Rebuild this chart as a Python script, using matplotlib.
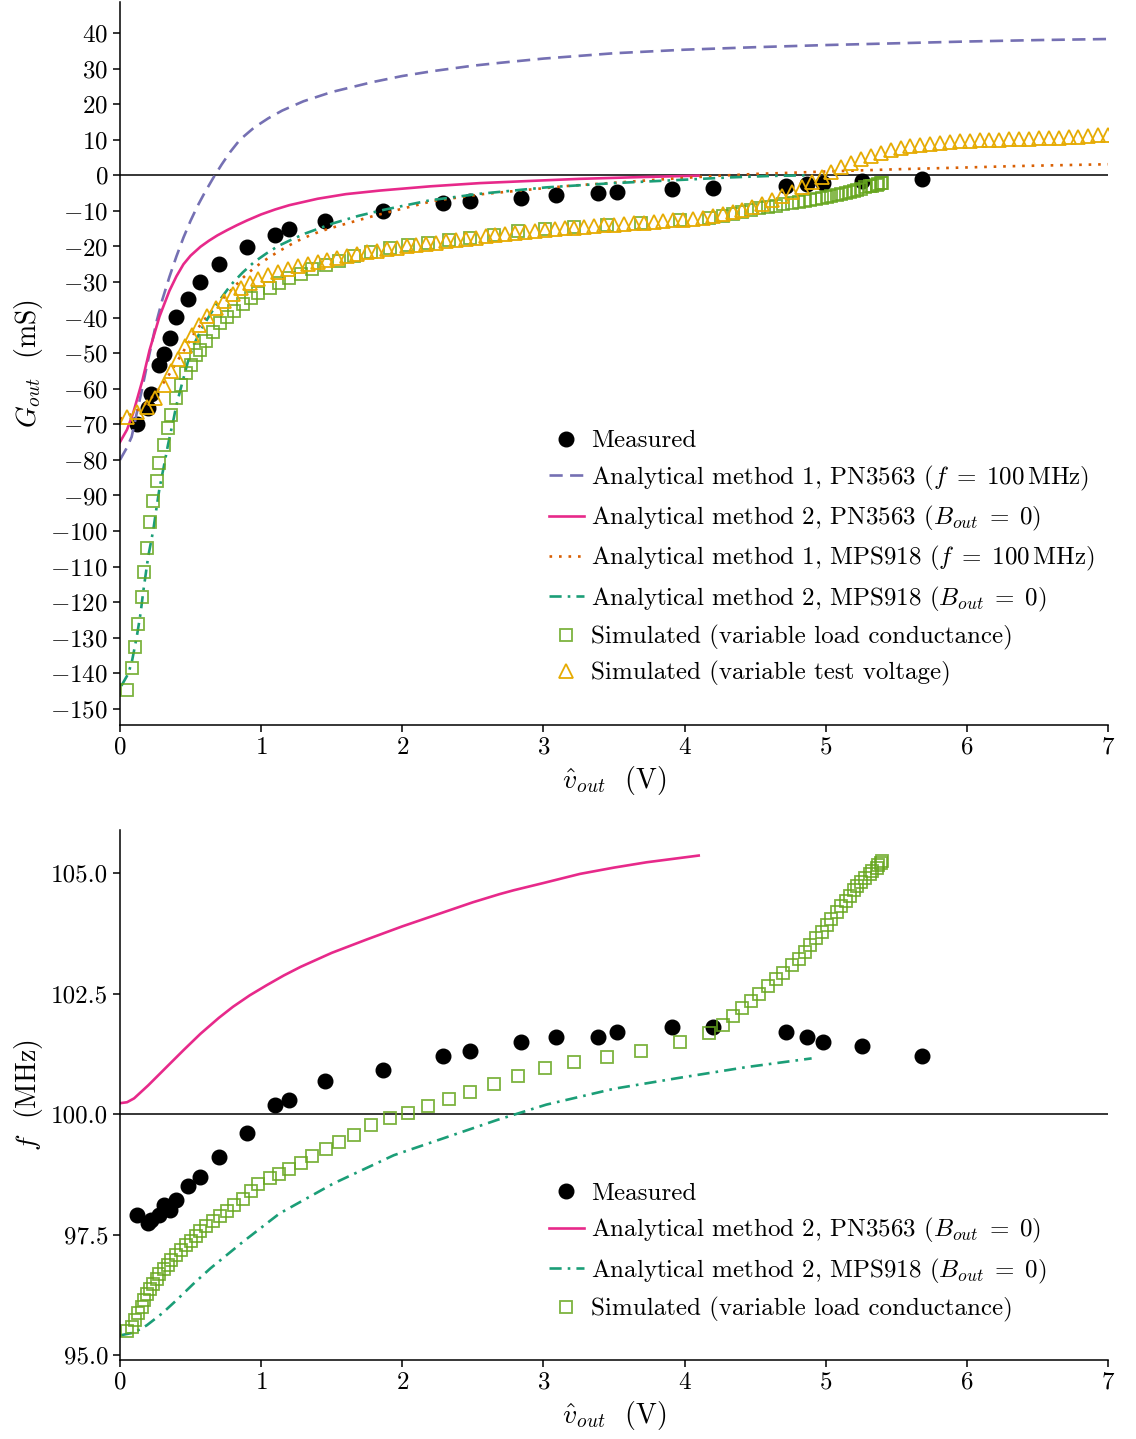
import matplotlib
matplotlib.use("Agg")
import matplotlib.pyplot as plt
from matplotlib.ticker import FormatStrFormatter

plt.rcParams.update({
    "font.family": "serif",
    "font.serif": ["cmr10"],
    "mathtext.fontset": "cm",
    "axes.formatter.use_mathtext": True,
    "axes.unicode_minus": True,
})

# ---------------- data ----------------
meas_v = [0.118, 0.20, 0.217, 0.28, 0.31, 0.355, 0.40, 0.485, 0.57, 0.70, 0.90, 1.10, 1.20, 1.45,
          1.86, 2.29, 2.48, 2.84, 3.09, 3.39, 3.52, 3.91, 4.20, 4.72, 4.87, 4.98, 5.26, 5.68]
meas_G = [-69.9, -65.5, -61.5, -53.3, -50.3, -45.8, -39.7, -34.8, -30.1, -25.0, -20.1, -16.8, -15.2, -12.8,
          -9.9, -7.9, -7.1, -6.3, -5.5, -5.1, -4.8, -3.9, -3.6, -2.9, -2.4, -2.1, -1.5, -1.0]
meas_f = [97.90, 97.74, 97.80, 97.90, 98.11, 98.01, 98.22, 98.51, 98.70, 99.11, 99.61, 100.19, 100.29, 100.70,
          100.91, 101.20, 101.31, 101.51, 101.60, 101.60, 101.71, 101.81, 101.81, 101.71, 101.60, 101.51, 101.41, 101.20]

# Analytical method 1, PN3563
a1p_v = [0.0, 0.047, 0.083, 0.11, 0.15, 0.20, 0.26, 0.30, 0.35, 0.40, 0.45, 0.50, 0.55, 0.60, 0.66, 0.72,
         0.78, 0.85, 0.95, 1.05, 1.15, 1.30, 1.50, 1.79, 2.0, 2.22, 2.5, 2.69, 3.0, 3.5, 4.0, 4.5, 5.0, 5.5,
         6.0, 6.5, 7.0]
a1p_G = [-80.0, -76.7, -73.5, -68.5, -61.3, -51.8, -41.0, -35.0, -28.6, -22.8, -17.5, -12.8, -8.6, -4.9, -0.8, 3.0,
         6.5, 10.0, 13.4, 16.0, 18.2, 20.8, 23.4, 26.2, 27.9, 29.3, 30.8, 31.6, 32.8, 34.3, 35.3, 36.0, 36.6, 37.1,
         37.6, 38.0, 38.3]

# Analytical method 2, PN3563
a2p_v = [0.0, 0.05, 0.094, 0.16, 0.21, 0.28, 0.35, 0.40, 0.45, 0.50, 0.57, 0.63, 0.69, 0.76, 0.83, 0.90, 1.0,
         1.1, 1.2, 1.4, 1.6, 1.84, 2.2, 2.55, 2.9, 3.26, 3.7, 4.1]
a2p_G = [-75.0, -71.5, -66.8, -57.5, -49.1, -39.7, -32.5, -28.4, -25.0, -22.6, -20.1, -18.4, -16.9, -15.4, -14.0,
         -12.7, -11.0, -9.6, -8.4, -6.6, -5.3, -4.3, -3.1, -2.2, -1.6, -1.0, -0.5, -0.1]
a2p_f_v = [0.0, 0.05, 0.1, 0.2, 0.33, 0.45, 0.57, 0.7, 0.8, 0.92, 1.04, 1.16, 1.28, 1.5, 1.75, 2.0, 2.22, 2.5,
           2.69, 2.79, 3.0, 3.26, 3.5, 3.73, 4.1]
a2p_f = [100.23, 100.25, 100.33, 100.60, 100.98, 101.33, 101.67, 102.00, 102.23, 102.47, 102.68, 102.88, 103.06,
         103.35, 103.63, 103.90, 104.12, 104.40, 104.57, 104.65, 104.80, 104.99, 105.12, 105.23, 105.37]

# Analytical method 1, MPS918
a1m_v = [0.0, 0.1, 0.2, 0.29, 0.35, 0.41, 0.46, 0.52, 0.58, 0.63, 0.72, 0.78, 0.83, 0.88, 0.94, 1.00, 1.06,
         1.12, 1.19, 1.26, 1.34, 1.41, 1.48, 1.55, 1.62, 1.80, 1.98, 2.22, 2.57, 2.83, 3.17, 3.50, 3.86, 4.21,
         4.51, 4.75, 4.95, 5.51, 6.0, 6.36, 7.0]
a1m_G = [-68.5, -66.8, -63.6, -59.4, -55.9, -52.0, -48.8, -44.8, -41.5, -39.0, -35.0, -32.6, -30.5, -28.5, -26.4,
         -24.6, -23.0, -21.5, -19.9, -18.4, -17.0, -15.9, -15.0, -14.2, -13.4, -11.4, -9.6, -7.2, -5.3, -4.3, -3.0,
         -2.1, -1.1, -0.2, 0.4, 0.7, 1.0, 1.7, 2.2, 2.6, 3.1]

# Analytical method 2, MPS918
a2m_v = [0.01, 0.06, 0.087, 0.12, 0.146, 0.165, 0.20, 0.236, 0.26, 0.28, 0.32, 0.34, 0.38, 0.40, 0.44, 0.48,
         0.52, 0.59, 0.68, 0.76, 0.80, 0.87, 0.95, 1.04, 1.12, 1.22, 1.31, 1.42, 1.51, 1.69, 1.87, 2.20, 2.55,
         3.02, 3.50, 3.97, 4.32, 4.60, 4.88]
a2m_G = [-143.5, -140.0, -136.2, -129.5, -123.1, -117.0, -107.2, -99.7, -93.2, -88.0, -80.0, -75.8, -68.5, -64.6,
         -58.5, -52.6, -47.8, -42.3, -36.5, -32.2, -30.2, -27.3, -24.4, -21.9, -19.9, -18.0, -16.4, -14.8, -13.5,
         -11.4, -9.7, -7.0, -5.2, -3.4, -2.2, -1.3, -0.6, -0.2, 0.0]
a2m_f_v = [0.0, 0.1, 0.19, 0.30, 0.40, 0.52, 0.64, 0.87, 1.13, 1.51, 1.94, 2.22, 2.67, 3.02, 3.50, 3.97, 4.44, 4.90]
a2m_f = [95.41, 95.47, 95.62, 95.87, 96.14, 96.48, 96.80, 97.35, 97.94, 98.56, 99.15, 99.43, 99.88, 100.20,
         100.53, 100.76, 100.98, 101.16]

# Simulated (variable load conductance)
simL_v = [0.047, 0.083, 0.106, 0.13, 0.153, 0.17, 0.19, 0.21, 0.236, 0.26, 0.28, 0.31, 0.34, 0.365, 0.40, 0.43,
          0.47, 0.50, 0.54, 0.57, 0.61, 0.66, 0.71, 0.76, 0.81, 0.87, 0.93, 0.98, 1.06, 1.13, 1.20, 1.28, 1.36,
          1.46, 1.55, 1.66, 1.78, 1.91, 2.04, 2.18, 2.33, 2.48, 2.65, 2.82, 3.01, 3.22, 3.45, 3.69, 3.97, 4.17,
          4.27, 4.34, 4.41, 4.47, 4.53, 4.59, 4.65, 4.70, 4.76, 4.81, 4.85, 4.89, 4.93, 4.97, 5.01, 5.04, 5.08,
          5.11, 5.14, 5.17, 5.20, 5.22, 5.25, 5.28, 5.31, 5.33, 5.36, 5.37, 5.39, 5.40]
simL_G = [-144.7, -138.5, -132.5, -126.1, -118.5, -111.5, -104.8, -97.5, -91.5, -86.0, -81.0, -75.8, -71.0, -67.5,
          -62.5, -59.0, -55.5, -53.2, -50.6, -49.0, -46.6, -44.0, -41.6, -39.7, -38.1, -36.2, -34.6, -33.2, -31.6,
          -30.2, -29.0, -27.7, -26.4, -25.1, -24.0, -22.8, -21.7, -20.5, -19.6, -19.1, -18.2, -17.5, -16.8, -15.8,
          -15.2, -14.6, -14.0, -13.3, -12.6, -12.1, -11.4, -11.0, -10.2, -9.8, -9.3, -8.9, -8.5, -8.2, -7.9, -7.6,
          -7.3, -7.0, -6.7, -6.4, -6.1, -5.8, -5.5, -5.2, -4.9, -4.6, -4.3, -4.1, -3.8, -3.4, -3.1, -2.9, -2.6,
          -2.4, -2.3, -2.2]
simL_f = [95.50, 95.59, 95.73, 95.87, 96.00, 96.14, 96.26, 96.37, 96.47, 96.58, 96.68, 96.78, 96.87, 96.97, 97.08,
          97.18, 97.28, 97.37, 97.47, 97.58, 97.68, 97.79, 97.89, 98.00, 98.12, 98.25, 98.41, 98.55, 98.67, 98.76,
          98.87, 98.99, 99.13, 99.28, 99.43, 99.56, 99.77, 99.92, 100.03, 100.17, 100.31, 100.46, 100.63, 100.80,
          100.96, 101.09, 101.19, 101.31, 101.51, 101.69, 101.86, 102.04, 102.20, 102.35, 102.50, 102.66, 102.80,
          102.93, 103.09, 103.23, 103.37, 103.51, 103.65, 103.78, 103.92, 104.06, 104.20, 104.32, 104.43, 104.54,
          104.65, 104.74, 104.82, 104.91, 104.98, 105.04, 105.11, 105.17, 105.22, 105.26]

# Simulated (variable test voltage)
simV_v = [0.05, 0.12, 0.19, 0.25, 0.31, 0.36, 0.41, 0.46, 0.51, 0.56, 0.62, 0.68, 0.74, 0.80, 0.86, 0.92, 0.98,
          1.05, 1.12, 1.19, 1.26, 1.33, 1.40, 1.47, 1.54, 1.61, 1.68, 1.75, 1.82, 1.89, 1.96, 2.03, 2.10, 2.17,
          2.24, 2.31, 2.38, 2.45, 2.52, 2.59, 2.66, 2.73, 2.80, 2.87, 2.94, 3.01, 3.08, 3.15, 3.22, 3.29, 3.36,
          3.43, 3.50, 3.57, 3.64, 3.71, 3.78, 3.85, 3.92, 3.99, 4.06, 4.13, 4.20, 4.27, 4.34, 4.41, 4.48, 4.55,
          4.62, 4.69, 4.76, 4.83, 4.90, 4.97, 5.04, 5.11, 5.18, 5.25, 5.32, 5.39, 5.46, 5.53, 5.60, 5.67, 5.74,
          5.81, 5.88, 5.95, 6.02, 6.09, 6.16, 6.23, 6.30, 6.37, 6.44, 6.51, 6.58, 6.65, 6.72, 6.79, 6.86, 6.93, 7.00]
simV_G = [-67.8, -66.6, -65.2, -62.7, -58.9, -55.0, -51.5, -48.0, -45.0, -42.2, -39.5, -37.3, -35.2, -33.3, -31.7,
          -30.3, -29.1, -28.0, -27.1, -26.3, -25.6, -25.0, -24.4, -23.8, -23.2, -22.7, -22.2, -21.7, -21.2, -20.8,
          -20.4, -20.0, -19.6, -19.2, -18.9, -18.5, -18.2, -17.8, -17.5, -17.2, -16.9, -16.6, -16.3, -16.0, -15.7,
          -15.4, -15.2, -14.9, -14.7, -14.5, -14.3, -14.1, -13.9, -13.7, -13.5, -13.3, -13.1, -12.9, -12.7, -12.5,
          -12.2, -11.9, -11.5, -11.0, -10.4, -9.7, -8.9, -8.0, -7.0, -5.9, -4.7, -3.4, -2.0, -0.6, 0.8, 2.2, 3.5,
          4.6, 5.5, 6.3, 7.0, 7.6, 8.1, 8.5, 8.8, 9.1, 9.3, 9.5, 9.7, 9.8, 9.9, 10.0, 10.1, 10.2, 10.3, 10.4, 10.5,
          10.6, 10.8, 10.9, 11.1, 11.2, 11.4]

x_ticks = [0, 1, 2, 3, 4, 5, 6, 7]
G_ticks = [-150, -140, -130, -120, -110, -100, -90, -80, -70, -60, -50, -40, -30, -20, -10, 0, 10, 20, 30, 40]
f_ticks = [95.0, 97.5, 100.0, 102.5, 105.0]

# ---------------- style ----------------
C_PUR, C_PINK, C_ORA, C_TEAL, C_GRN, C_YEL = "#7570b3", "#e7298a", "#d95f02", "#1b9e77", "#66a61e", "#e6ab02"
FS = 18
LW = 1.9

fig = plt.figure(figsize=(11.36, 14.39), dpi=100)
ax1 = fig.add_axes([0.1056, 0.4962, 0.8698, 0.5024])
ax2 = fig.add_axes([0.1056, 0.0549, 0.8698, 0.3683])


def style(ax):
    for s in ("top", "right"):
        ax.spines[s].set_visible(False)
    for s in ("left", "bottom"):
        ax.spines[s].set_linewidth(1.1)
    ax.tick_params(direction="out", length=5, width=1.1, labelsize=FS)
    ax.set_xlim(0, 7)
    ax.set_xticks(x_ticks)
    ax.set_xlabel(r"$\hat{v}_{out}$  (V)", fontsize=20, labelpad=4)


LEG = dict(frameon=False, fontsize=FS, handlelength=1.4, handletextpad=0.3,
           labelspacing=0.45, borderaxespad=0.0, loc="upper left")

lab_a1p = r"Analytical method 1, PN3563 ($f\;=\;100\,$MHz)"
lab_a2p = r"Analytical method 2, PN3563 ($B_{out}\;=\;0$)"
lab_a1m = r"Analytical method 1, MPS918 ($f\;=\;100\,$MHz)"
lab_a2m = r"Analytical method 2, MPS918 ($B_{out}\;=\;0$)"

# ---- top ----
ax1.axhline(0, color="k", lw=1.1, zorder=1)
ax1.plot(meas_v, meas_G, "o", color="k", ms=10.5, label="Measured")
ax1.plot(a1p_v, a1p_G, color=C_PUR, lw=LW, ls=(0, (5, 2.8)), label=lab_a1p)
ax1.plot(a2p_v, a2p_G, color=C_PINK, lw=LW, ls="-", label=lab_a2p)
ax1.plot(a1m_v, a1m_G, color=C_ORA, lw=LW, ls=(0, (1, 2.6)), label=lab_a1m)
ax1.plot(a2m_v, a2m_G, color=C_TEAL, lw=LW, ls=(0, (4.6, 2.3, 1, 2.3)), label=lab_a2m)
ax1.plot(simL_v, simL_G, "s", ms=8.5, mfc="none", mec=C_GRN, mew=1.3, alpha=0.85,
         label="Simulated (variable load conductance)")
ax1.plot(simV_v, simV_G, "^", ms=10.5, mfc="none", mec=C_YEL, mew=1.3,
         label="Simulated (variable test voltage)")
style(ax1)
ax1.set_ylim(-154.5, 48.7)
ax1.set_yticks(G_ticks)
ax1.set_ylabel(r"$G_{out}$  (mS)", fontsize=20, labelpad=4)
ax1.legend(bbox_to_anchor=(0.424, 0.422), **LEG)

# ---- bottom ----
ax2.axhline(100, color="k", lw=1.1, zorder=1)
ax2.plot(meas_v, meas_f, "o", color="k", ms=10.5, label="Measured")
ax2.plot(a2p_f_v, a2p_f, color=C_PINK, lw=LW, ls="-", label=lab_a2p)
ax2.plot(a2m_f_v, a2m_f, color=C_TEAL, lw=LW, ls=(0, (4.6, 2.3, 1, 2.3)), label=lab_a2m)
ax2.plot(simL_v, simL_f, "s", ms=8.5, mfc="none", mec=C_GRN, mew=1.3, alpha=0.85,
         label="Simulated (variable load conductance)")
style(ax2)
ax2.set_ylim(94.9, 105.9)
ax2.set_yticks(f_ticks)
ax2.yaxis.set_major_formatter(FormatStrFormatter("%.1f"))
ax2.set_ylabel(r"$f$  (MHz)", fontsize=20, labelpad=4)
ax2.legend(bbox_to_anchor=(0.424, 0.354), **LEG)

fig.savefig("out.png", dpi=100)
